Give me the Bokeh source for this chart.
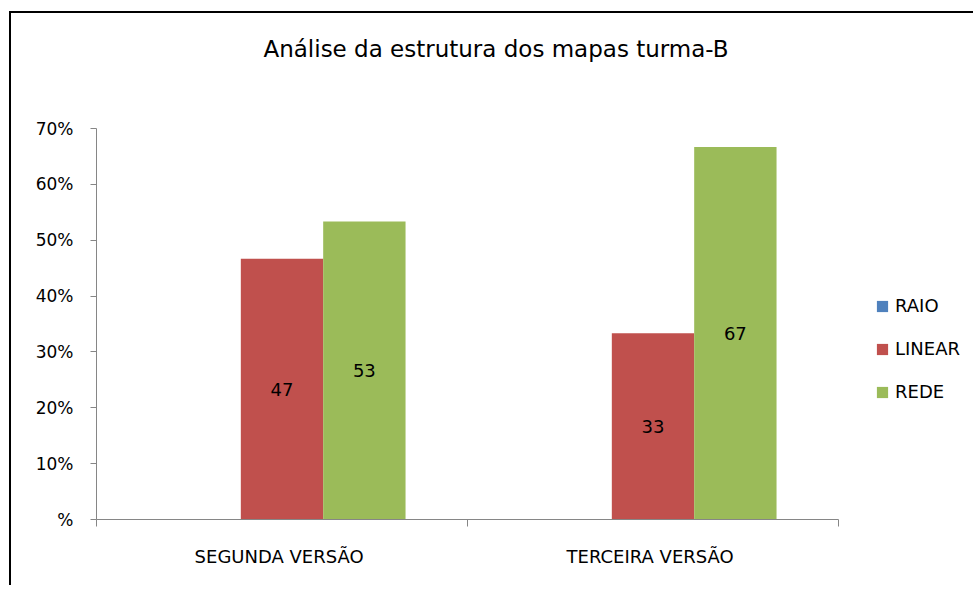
from bokeh.plotting import figure
from bokeh.models import (ColumnDataSource, FixedTicker, Legend, LegendItem, Range1d)
from bokeh.core.properties import value
from bokeh.embed import file_html
from bokeh.resources import INLINE

# ---- data ----
title_text = "Análise  da estrutura  dos mapas turma-B"
categories = ["SEGUNDA  VERSÃO", "TERCEIRA  VERSÃO"]
series_names = ["RAIO", "LINEAR", "REDE"]
raio = [0.0, 0.0]
linear = [46.67, 33.33]
rede = [53.33, 66.67]
y_ticks = [0, 10, 20, 30, 40, 50, 60, 70]
y_tick_labels = ["%", "10%", "20%", "30%", "40%", "50%", "60%", "70%"]

colors = ["#4F81BD", "#C0504D", "#9BBB59"]
FONT = "DejaVu Sans"

Y_MAX = 70
FRAME_H = 506          # frame reaches the top of the canvas; title sits inside it
AXIS_H = 391           # pixel height of the 0..70 % axis
y_top = Y_MAX * FRAME_H / AXIS_H

p = figure(width=955, height=572, output_backend="svg", toolbar_location=None,
           x_range=Range1d(0, len(categories)), y_range=Range1d(0, y_top),
           frame_width=742, frame_height=FRAME_H,
           min_border_left=85, min_border_right=129, min_border_top=0, min_border_bottom=66)
p.styles = {"border-left": "2px solid #000", "border-top": "2px solid #000",
            "margin-left": "9px", "margin-top": "11px"}
p.outline_line_color = None
p.grid.visible = False
p.background_fill_color = "white"
p.border_fill_color = "white"

# title (as text inside the frame, above the plotting area)
p.text(x=[0.45], y=[Y_MAX * (519 - 48) / AXIS_H], text=[title_text], text_align="left",
       text_baseline="middle", text_font=value(FONT), text_font_size="23px",
       text_color="#000000")

bw = 0.222
offsets = [-bw, 0.0, bw]
centers = [i + 0.5 for i in range(len(categories))]
renderers = []
for vals, off, col, name in zip([raio, linear, rede], offsets, colors, series_names):
    src = ColumnDataSource(dict(x=[c + off for c in centers], top=vals,
                                lab=[str(int(round(v))) if v > 0 else "" for v in vals],
                                ym=[v / 2 for v in vals]))
    r = p.vbar(x="x", top="top", bottom=0, width=bw, source=src, fill_color=col, line_color=None)
    renderers.append((name, r))
    p.text(x="x", y="ym", text="lab", source=src, text_align="center", text_baseline="middle",
           text_font=value(FONT), text_font_size="18px", text_color="#000000")

# y axis
ya = p.yaxis[0]
ya.bounds = (0, Y_MAX)
ya.ticker = FixedTicker(ticks=y_ticks)
ya.major_label_overrides = {t: l for t, l in zip(y_ticks, y_tick_labels)}
ya.axis_line_color = "#868686"
ya.major_tick_line_color = "#868686"
ya.major_tick_in = 0
ya.major_tick_out = 6
ya.minor_tick_line_color = None
ya.major_label_text_font = FONT
ya.major_label_text_font_size = "17px"
ya.major_label_text_color = "#000000"
ya.major_label_standoff = 17

# x axis
xa = p.xaxis[0]
xa.ticker = FixedTicker(ticks=centers, minor_ticks=list(range(len(categories) + 1)))
xa.major_label_overrides = {c: n for c, n in zip(centers, categories)}
xa.axis_line_color = "#868686"
xa.major_tick_line_color = None
xa.minor_tick_line_color = "#868686"
xa.minor_tick_in = 0
xa.minor_tick_out = 7
xa.major_label_text_font = FONT
xa.major_label_text_font_size = "18px"
xa.major_label_text_color = "#000000"
xa.major_label_standoff = 19

legend = Legend(items=[LegendItem(label=n, renderers=[r]) for n, r in renderers],
                location=(37, 117), border_line_color=None, background_fill_alpha=0,
                label_text_font=FONT, label_text_font_size="18px", label_text_color="#000000",
                glyph_width=14, glyph_height=14, label_height=14, spacing=22, padding=0,
                margin=0, label_standoff=6)
p.add_layout(legend, "right")

open("out.html", "w").write(file_html(p, INLINE))
